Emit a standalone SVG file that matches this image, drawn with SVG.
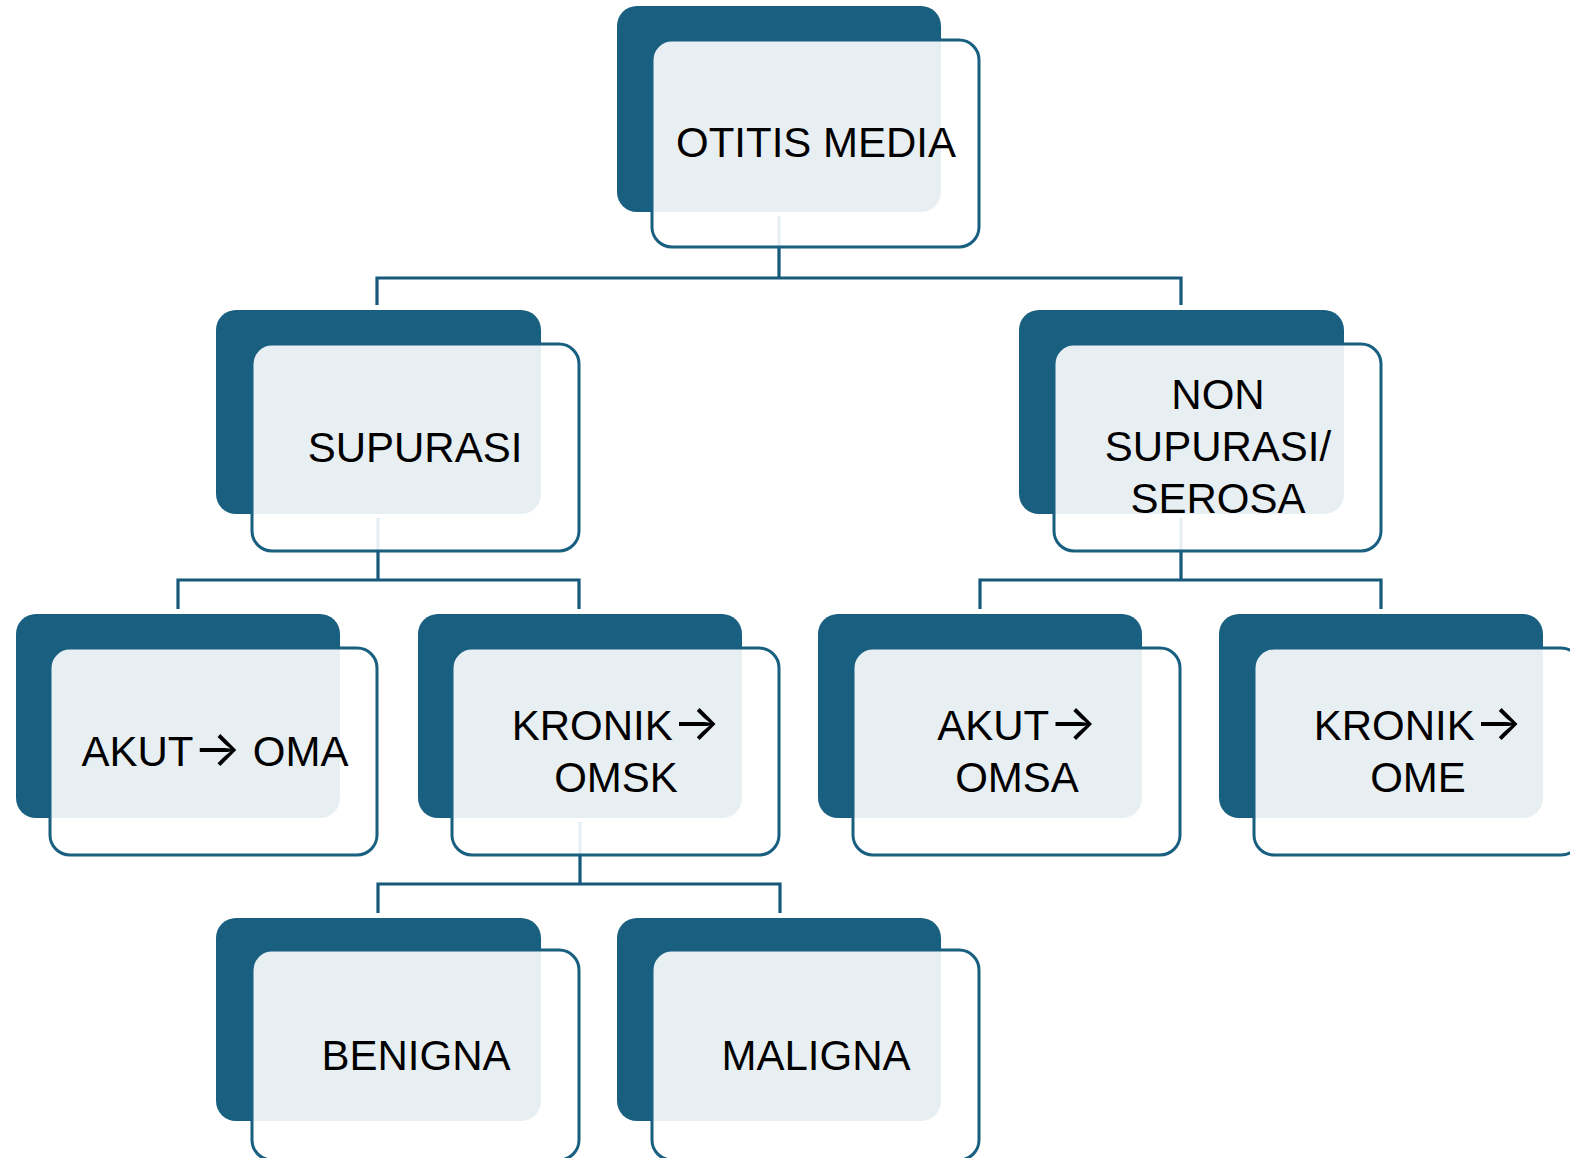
<svg xmlns="http://www.w3.org/2000/svg" width="1570" height="1158" viewBox="0 0 1570 1158">
<style>
.back{fill:#195f80}
.front{fill:#ffffff;fill-opacity:0.9;stroke:#195f80;stroke-width:3}
.conn{fill:none;stroke:#17597a;stroke-width:3.2;stroke-linejoin:miter}
.t{font-family:"Liberation Sans",Arial,sans-serif;font-size:42px;fill:#000;text-anchor:middle}
.arr{font-family:Inter,"DejaVu Sans",sans-serif;font-size:50px}
</style>
<rect width="1570" height="1158" fill="#fff"/>
<g id="connectors">
<path class="conn" d="M779 216V278M377 305V278H1181V305"/>
<path class="conn" d="M378 518V580M178 609V580H579V609"/>
<path class="conn" d="M1181 518V580M980 609V580H1381V609"/>
<path class="conn" d="M580 822V884M378 913V884H780V913"/>
</g>
<g id="node-otitis-media">
<rect class="back" x="617" y="6" width="324" height="206" rx="20"/>
<rect class="front" x="652" y="40" width="327" height="207" rx="20"/>
<text class="t" x="816" y="157">OTITIS MEDIA</text>
</g>
<g id="node-supurasi">
<rect class="back" x="216" y="310" width="325" height="204" rx="20"/>
<rect class="front" x="252" y="344" width="327" height="207" rx="20"/>
<text class="t" x="415" y="462">SUPURASI</text>
</g>
<g id="node-non-supurasi">
<rect class="back" x="1019" y="310" width="325" height="204" rx="20"/>
<rect class="front" x="1054" y="344" width="327" height="207" rx="20"/>
<text class="t" x="1218" y="409">NON</text>
<text class="t" x="1218" y="461">SUPURASI/</text>
<text class="t" x="1218" y="513">SEROSA</text>
</g>
<g id="node-akut-oma">
<rect class="back" x="16" y="614" width="324" height="204" rx="20"/>
<rect class="front" x="50" y="648" width="327" height="207" rx="20"/>
<text class="t" x="215" y="766">AKUT<tspan class="arr">→</tspan> OMA</text>
</g>
<g id="node-kronik-omsk">
<rect class="back" x="418" y="614" width="324" height="204" rx="20"/>
<rect class="front" x="452" y="648" width="327" height="207" rx="20"/>
<text class="t" x="616" y="740">KRONIK<tspan class="arr">→</tspan></text>
<text class="t" x="616" y="792">OMSK</text>
</g>
<g id="node-akut-omsa">
<rect class="back" x="818" y="614" width="324" height="204" rx="20"/>
<rect class="front" x="853" y="648" width="327" height="207" rx="20"/>
<text class="t" x="1017" y="740">AKUT<tspan class="arr">→</tspan></text>
<text class="t" x="1017" y="792">OMSA</text>
</g>
<g id="node-kronik-ome">
<rect class="back" x="1219" y="614" width="324" height="204" rx="20"/>
<rect class="front" x="1254" y="648" width="327" height="207" rx="20"/>
<text class="t" x="1418" y="740">KRONIK<tspan class="arr">→</tspan></text>
<text class="t" x="1418" y="792">OME</text>
</g>
<g id="node-benigna">
<rect class="back" x="216" y="918" width="325" height="203" rx="20"/>
<rect class="front" x="252" y="950" width="327" height="210" rx="20"/>
<text class="t" x="416" y="1070">BENIGNA</text>
</g>
<g id="node-maligna">
<rect class="back" x="617" y="918" width="324" height="203" rx="20"/>
<rect class="front" x="652" y="950" width="327" height="210" rx="20"/>
<text class="t" x="816" y="1070">MALIGNA</text>
</g>
</svg>
